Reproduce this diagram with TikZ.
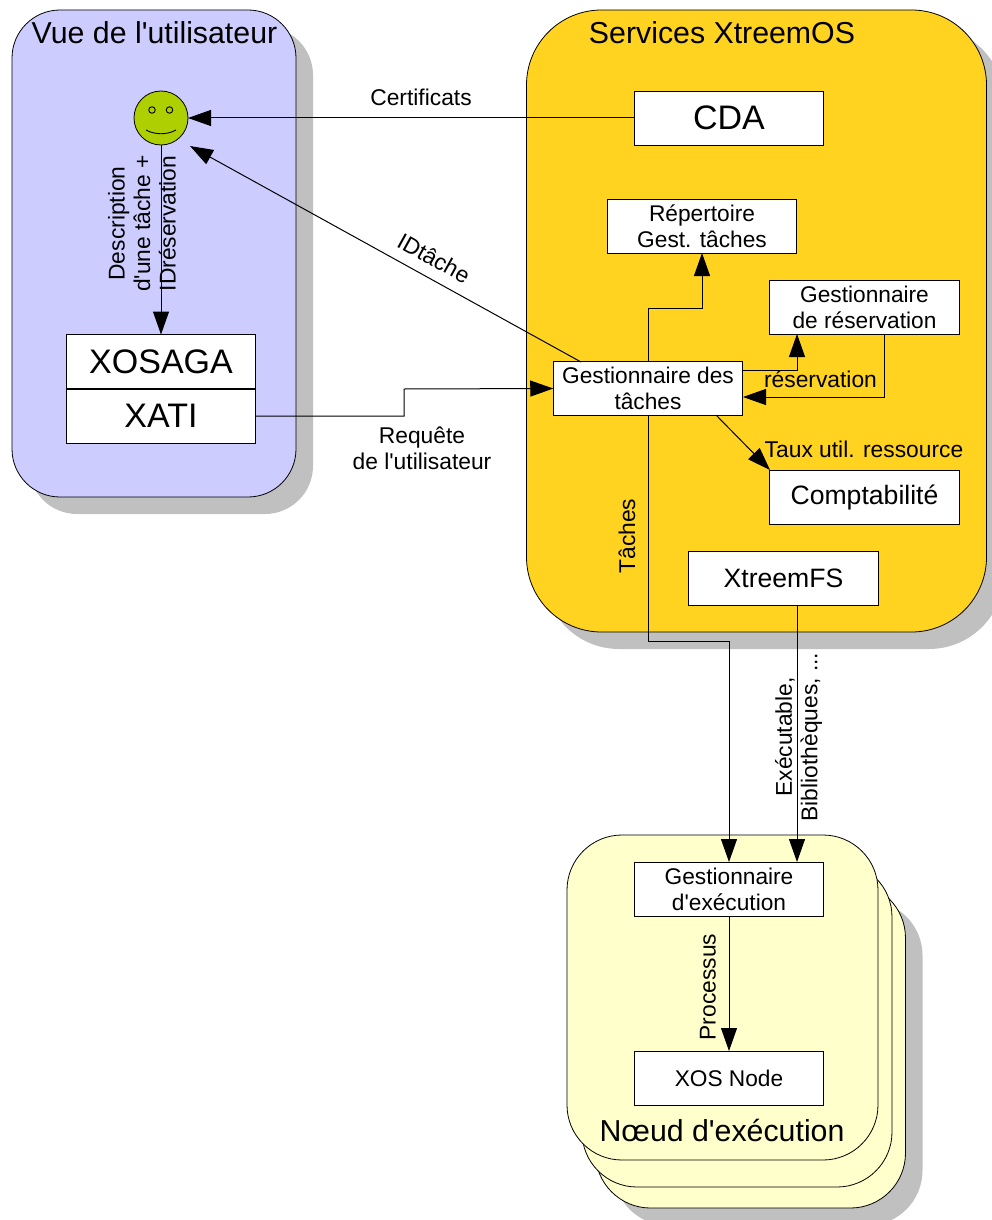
\documentclass[tikz,border=0pt]{standalone}
\usepackage{fontspec}
\newfontfamily\libsans{Liberation Sans}
\usetikzlibrary{arrows.meta}
\newcommand{\fs}[2]{\libsans\fontsize{#1}{#2}\selectfont}
\definecolor{bluebg}{HTML}{CCCCFF}
\definecolor{yelbg}{HTML}{FFD320}
\definecolor{palebg}{HTML}{FFFFCC}
\definecolor{shadowc}{HTML}{C0C0C0}
\definecolor{smile}{HTML}{AECF00}
\tikzset{
  x=1pt,y=-1pt,
  panel/.style={draw=black,line width=0.8pt,inner sep=0pt,outer sep=0pt},
  shadowp/.style={fill=shadowc,inner sep=0pt,outer sep=0pt},
  box/.style={draw=black,fill=white,line width=0.9pt,inner sep=0pt,outer sep=0pt,minimum width=189.5pt,minimum height=54pt,align=center,font=\fs{22.7}{26}},
  bigtext/.style={font=\fs{34}{38}},
  midtext/.style={font=\fs{26.6}{30}},
  title/.style={font=\fs{30.3}{34},inner sep=0pt},
  lab/.style={font=\fs{22.8}{25.5},align=center,inner sep=0pt},
  conn/.style={draw=black,line width=1pt,-{Triangle[length=23pt,width=16pt]}},
  eye/.style={draw=black,circle,minimum size=6.5pt,inner sep=0pt,line width=0.9pt}
}
\begin{document}
\begin{tikzpicture}
\useasboundingbox (0,0) rectangle (992,1220);
% shadows
\node[shadowp,rounded corners=48pt,minimum width=284pt,minimum height=487pt] (sblue) at (171,270.5) {};
\node[shadowp,rounded corners=75pt,minimum width=460pt,minimum height=622pt] (syel) at (774,338) {};
\node[shadowp,rounded corners=55pt,minimum width=309pt,minimum height=325pt] (snode) at (768,1063) {};
% panels
\node[panel,fill=bluebg,rounded corners=48pt,minimum width=284pt,minimum height=487pt] (user) at (154,253.5) {};
\node[panel,fill=yelbg,rounded corners=75pt,minimum width=460pt,minimum height=622pt] (services) at (756.5,321) {};
\node[panel,fill=palebg,rounded corners=55pt,minimum width=310pt,minimum height=325pt] (n3) at (750.5,1045.5) {};
\node[panel,fill=palebg,rounded corners=55pt,minimum width=310pt,minimum height=325pt] (n2) at (737,1024.5) {};
\node[panel,fill=palebg,rounded corners=55pt,minimum width=311pt,minimum height=325pt] (n1) at (722.5,997.5) {};
% titles
\node[title] (tuser) at (154.5,33) {Vue de l'utilisateur};
\node[title] (tserv) at (722,33) {Services XtreemOS};
\node[title] (tnode) at (722,1130) {Nœud d'exécution};
% smiley
\node[draw=black,fill=smile,circle,minimum size=54pt,inner sep=0pt,outer sep=0pt,line width=0.8pt] (smiley) at (161,118) {};
\node[eye] (eyeL) at (152,110) {};
\node[eye] (eyeR) at (169.5,110) {};
\draw[line width=0.9pt] (146,130) .. controls (155,135) and (167,135) .. (176,130);
% boxes
\node[box,bigtext] (cda) at (729,118) {CDA};
\node[box] (rep) at (702,226) {Répertoire\\Gest. tâches};
\node[box] (res) at (864.5,307.5) {Gestionnaire\\de réservation};
\node[box] (gt) at (648,388.5) {Gestionnaire des\\tâches};
\node[box,midtext] (compta) at (864.5,497) {Comptabilité};
\node[box,midtext] (xfs) at (783.5,578) {XtreemFS};
\node[box,bigtext] (saga) at (161,361.5) {XOSAGA};
\node[box,bigtext] (xati) at (161,416) {XATI};
\node[box] (exec) at (729,889) {Gestionnaire\\d'exécution};
\node[box] (xos) at (729,1078) {XOS Node};
% anchor points for connectors
\coordinate (idstart) at (581,362);
\coordinate (idend) at (190,146);
\coordinate (xbend) at (404,416);
\coordinate (xbendb) at (404,389);
\coordinate (gtrepbend) at (648,308);
\coordinate (gtresout) at (743,370);
\coordinate (resin0) at (797,334);
\coordinate (resout) at (884,334);
\coordinate (resin) at (743,397);
\coordinate (gtcout) at (716,415);
\coordinate (comptain) at (770,470);
\coordinate (xfsout) at (797,605);
\coordinate (xfsin) at (797,862);
\coordinate (tbend) at (648,641);
% connectors
\draw[conn] (cda.west) -- (smiley.east);
\draw[conn] (idstart) -- (idend);
\draw[conn] (smiley.south) -- (saga.north);
\draw[conn] (xati.east) -- (xbend) -- (xbendb) -- (gt.west);
\draw[conn] (gt.north) -- (gtrepbend) -| (rep.south);
\draw[conn] (gtresout) -| (resin0);
\draw[conn] (resout) |- (resin);
\draw[conn] (gtcout) -- (comptain);
\draw[conn] (xfsout) -- (xfsin);
\draw[conn] (gt.south) -- (tbend) -| (exec.north);
\draw[conn] (exec.south) -- (xos.north);
% labels
\node[lab] (lcert) at (421,97) {Certificats};
\node[lab,rotate=-29] (lid) at (434,258) {IDtâche};
\node[lab,rotate=90] (ldesc) at (142,223.5) {Description\\d'une tâche +\\IDréservation};
\node[lab] (lreq) at (422,448.5) {Requête\\de l'utilisateur};
\node[lab] (lres) at (820.5,379) {réservation};
\node[lab] (ltaux) at (864,449) {Taux util. ressource};
\node[lab,rotate=90] (ltach) at (627,536) {Tâches};
\node[lab,rotate=90] (lexe) at (798.5,737) {Exécutable,\\Bibliothèques, ...};
\node[lab,rotate=90] (lproc) at (708,987) {Processus};
\end{tikzpicture}
\end{document}
